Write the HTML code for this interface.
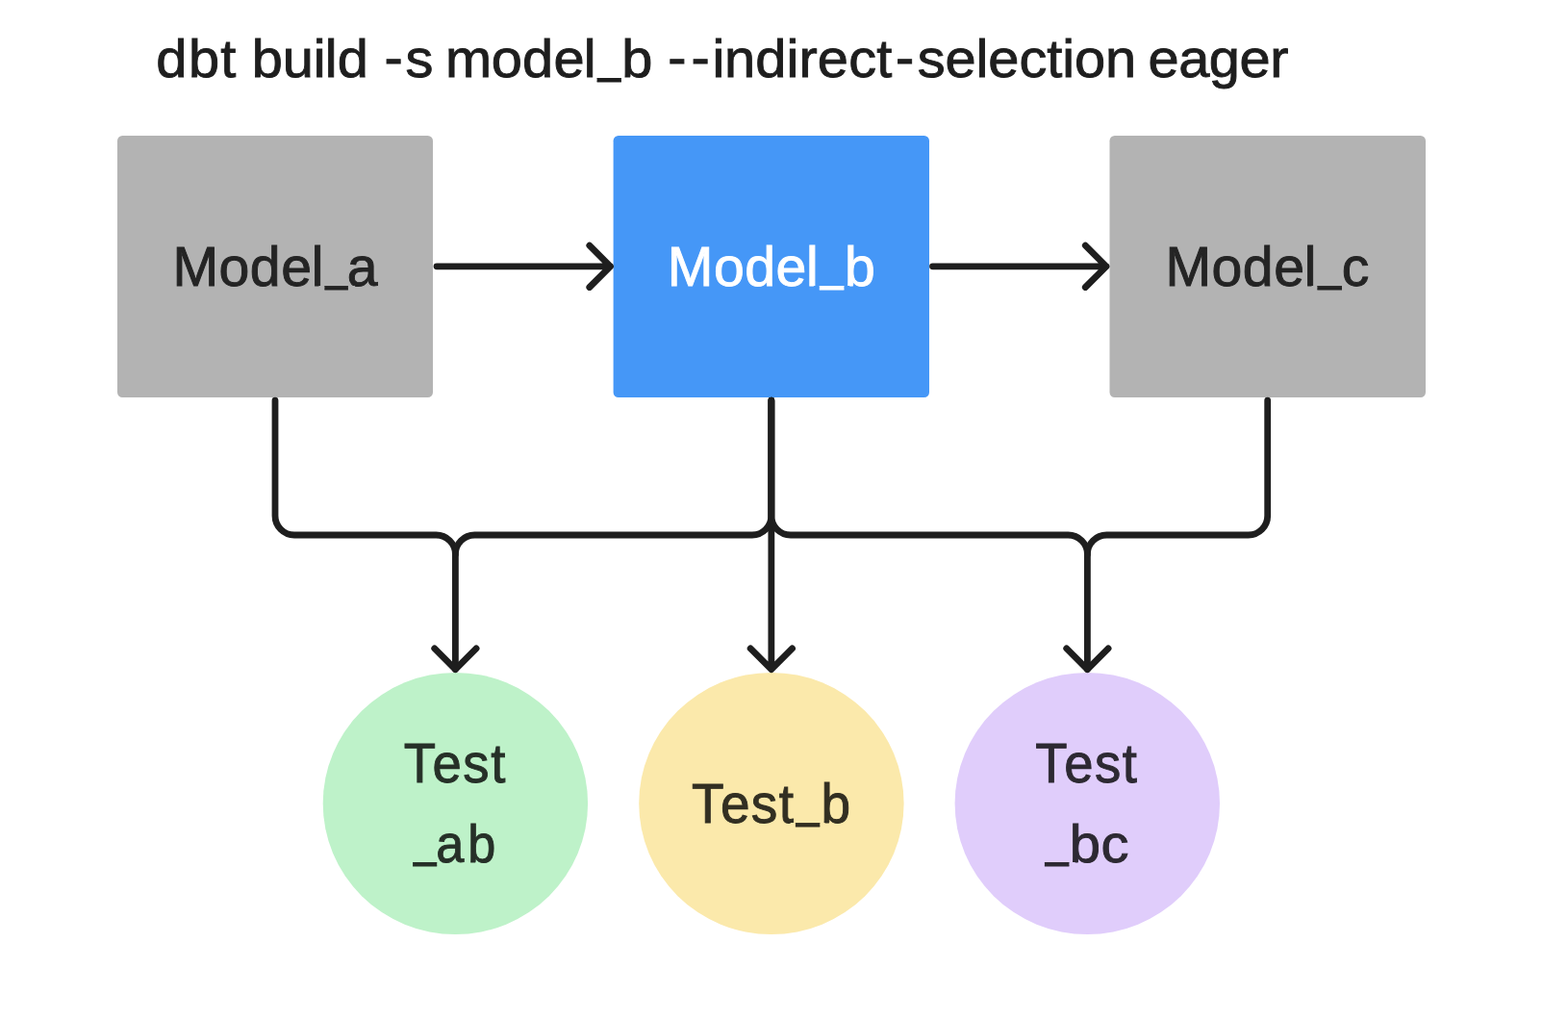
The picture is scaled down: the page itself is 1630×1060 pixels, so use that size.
<!DOCTYPE html>
<html lang="en">
<head>
<meta charset="utf-8">
<title>dbt build -s model_b --indirect-selection eager</title>
<style>
  html, body { margin: 0; padding: 0; background: #ffffff; }
  body { width: 1630px; height: 1060px; overflow: hidden; position: relative; }
  svg { position: absolute; left: 0; top: 0; display: block; }
  text { font-family: "Liberation Sans", sans-serif; font-size: 55px; font-weight: 400; stroke-width: 0.9px; white-space: pre; }
</style>
</head>
<body>
<svg width="1630" height="1060" viewBox="0 0 1630 1060">
  <rect x="122" y="141" width="328" height="272" rx="5.3" fill="#b3b3b3"/>
  <rect x="637.6" y="141" width="328.4" height="272" rx="5.3" fill="#4597f7"/>
  <rect x="1153.5" y="141" width="328.5" height="272" rx="5.3" fill="#b3b3b3"/>
  <ellipse cx="473.4" cy="835" rx="137.7" ry="136" fill="#bef2c9"/>
  <ellipse cx="801.9" cy="835" rx="137.7" ry="136" fill="#fbe9ab"/>
  <ellipse cx="1130.3" cy="835" rx="137.7" ry="136" fill="#e0cdfb"/>
  <g fill="none" stroke="#1e1e1e" stroke-width="6.8" stroke-linecap="round" stroke-linejoin="round">
    <path d="M454 276.8H634.5M612.8 255.1L634.5 276.8L612.8 298.5"/>
    <path d="M969.5 276.8H1150M1128.3 255.1L1150 276.8L1128.3 298.5"/>
    <path d="M286 416.2V536A20 20 0 0 0 306 556H453.4A20 20 0 0 1 473.4 576V695.6"/>
    <path d="M801.85 416.2V536A20 20 0 0 1 781.85 556H493.4A20 20 0 0 0 473.4 576"/>
    <path d="M451.7 673.9L473.4 695.6L495.1 673.9"/>
    <path d="M801.85 416.2V695.6M780.15 673.9L801.85 695.6L823.55 673.9"/>
    <path d="M801.85 416.2V536A20 20 0 0 0 821.85 556H1110.4A20 20 0 0 1 1130.4 576V695.6"/>
    <path d="M1317.7 416.2V536A20 20 0 0 1 1297.7 556H1150.4A20 20 0 0 0 1130.4 576"/>
    <path d="M1108.7 673.9L1130.4 695.6L1152.1 673.9"/>
  </g>
  <clipPath id="trim"><path clip-rule="evenodd" d="M0 0H1630V1060H0ZM614.4 81H620.6V88H614.4ZM645.9 81H652.1V88H645.9ZM331.5 297H337.4V304H331.5ZM361.9 297H368.9V304H361.9ZM845.9 297H851.8V304H845.9ZM877.4 297H883.2V304H877.4ZM1363.5 297H1369.4V304H1363.5ZM1395.0 297H1400.9V304H1395.0ZM424.7 896H429.1V903H424.7ZM454.2 896H459.0V903H454.2ZM821.6 855H826.9V862H821.6ZM852.3 855H857.6V862H852.3ZM1079.7 896H1085.9V903H1079.7ZM1111.4 896H1117.6V903H1111.4Z"/></clipPath>
  <g clip-path="url(#trim)">
    <text transform="scale(1.05,1.0)" x="154.49 186.78 218.37 233.81 249.26 279.69 310.13 321.78 334.15 357.37 380.58 401.44 421.15 440.87 486.35 517.15 548.12 577.78 587.88 615.45 638.35 661.25 684.39 705.13 717.05 747.93 778.68 791.07 809.37 840.30 867.94 886.72 908.32 935.66 966.27 978.25 1009.00 1036.44 1051.72 1063.73 1094.30 1115.47 1136.65 1166.93 1196.97 1227.12 1257.46" y="80 80 80 80 80 80 80 80 80 80 79 80 80 80 80 80 80 80 74 80 80 79 79 80 80 80 80 80 80 80 80 79 80 80 80 80 80 80 80 80 80 80 80 80 80 80 80" fill="#1e1e1e" stroke="#1e1e1e">dbt build -s model_b --indirect-selection eager</text>
    <text transform="scale(1.04,1.03)" x="172.60 218.86 249.86 280.99 311.33 321.51 346.80" y="288.35 288.35 288.35 288.35 288.35 281.553 288.35" fill="#242424" stroke="#242424">Model_a</text>
    <text transform="scale(1.04,1.03)" x="667.17 713.43 744.43 775.56 805.89 816.08 844.12" y="288.35 288.35 288.35 288.35 288.35 281.553 288.35" fill="#ffffff" stroke="#ffffff">Model_b</text>
    <text transform="scale(1.04,1.03)" x="1164.91 1211.17 1242.17 1273.30 1303.63 1313.82 1341.08" y="288.35 288.35 288.35 288.35 288.35 281.553 288.35" fill="#242424" stroke="#242424">Model_c</text>
    <text transform="scale(0.99,1.03)" x="423.90 454.08 486.14 515.31" y="789.32" fill="#263028" stroke="#263028">Test</text>
    <text transform="scale(0.95,1.0)" x="449.89 477.00 511.91" y="889 896 896" fill="#263028" stroke="#263028">_ab</text>
    <text transform="scale(1.0,1.03)" x="719.00 748.89 780.84 809.88 824.38 853.47" y="830.097 830.097 830.097 830.097 823.301 830.097" fill="#322f22" stroke="#322f22">Test_b</text>
    <text transform="scale(0.99,1.03)" x="1087.24 1117.42 1149.47 1178.64" y="789.32" fill="#2d2932" stroke="#2d2932">Test</text>
    <text transform="scale(1.055,1.0)" x="1026.16 1053.70 1084.94" y="889 896 896" fill="#2d2932" stroke="#2d2932">_bc</text>
  </g>
</svg>
</body>
</html>
